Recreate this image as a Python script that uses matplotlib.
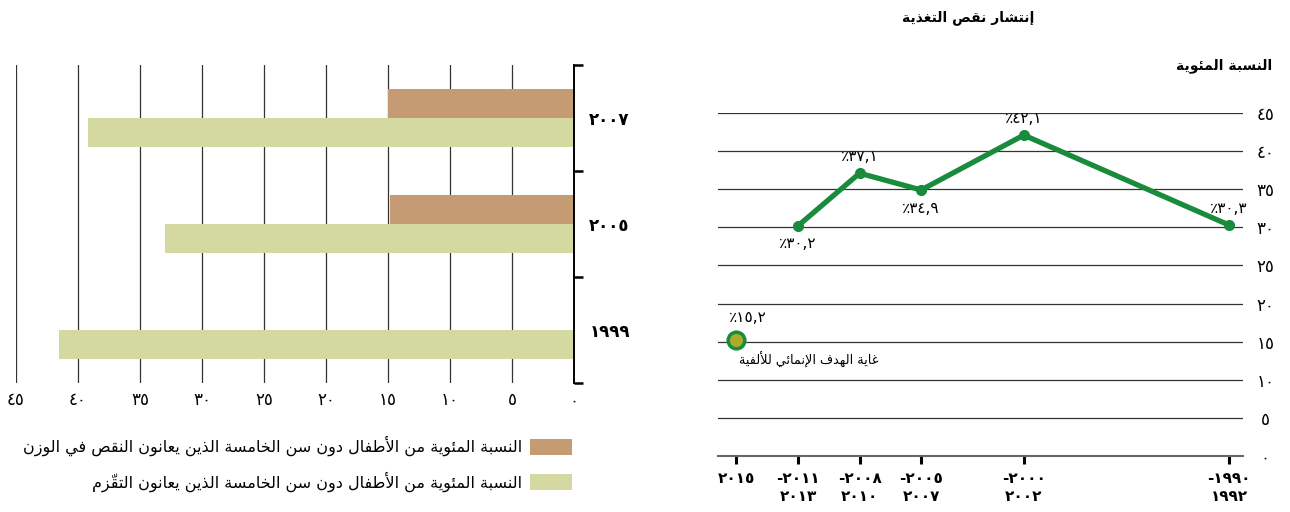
import numpy as np
import matplotlib
matplotlib.use("Agg")
import matplotlib.pyplot as plt

# ---- data: left chart (children under five) ----
bar_years = ["١٩٩٩", "٢٠٠٥", "٢٠٠٧"]
underweight = [np.nan, 14.8, 15.0]
stunting = [41.5, 33.0, 39.2]

# ---- data: right chart (undernourishment prevalence) ----
period_mid = [1991, 2001, 2006, 2009, 2012]
period_labels = ["-١٩٩٠\n١٩٩٢", "-٢٠٠٠\n٢٠٠٢", "-٢٠٠٥\n٢٠٠٧", "-٢٠٠٨\n٢٠١٠", "-٢٠١١\n٢٠١٣"]
prevalence = [30.3, 42.1, 34.9, 37.1, 30.2]
value_labels = ["٪٣٠,٣", "٪٤٢,١", "٪٣٤,٩", "٪٣٧,١", "٪٣٠,٢"]
target_year = 2015
target_label = "٢٠١٥"
target_value = 15.2
target_text = "٪١٥,٢"

title = "إنتشار نقص التغذية"
ylab = "النسبة المئوية"
target_caption = "غاية الهدف الإنمائي للألفية"
legend_labels = ["النسبة المئوية من الأطفال دون سن الخامسة الذين يعانون النقص في الوزن",
                 "النسبة المئوية من الأطفال دون سن الخامسة الذين يعانون التقزّم"]

BROWN = "#c49b72"
PALE = "#d3d9a1"
GREEN = "#188b3c"
OLIVE = "#a9ac2c"

# arabic presentation forms: letter -> (isolated form, number of forms)
AR_FORMS = {
    "ء": (0xFE80, 1), "آ": (0xFE81, 2), "أ": (0xFE83, 2), "ؤ": (0xFE85, 2),
    "إ": (0xFE87, 2), "ئ": (0xFE89, 4), "ا": (0xFE8D, 2), "ب": (0xFE8F, 4),
    "ة": (0xFE93, 2), "ت": (0xFE95, 4), "ث": (0xFE99, 4), "ج": (0xFE9D, 4),
    "ح": (0xFEA1, 4), "خ": (0xFEA5, 4), "د": (0xFEA9, 2), "ذ": (0xFEAB, 2),
    "ر": (0xFEAD, 2), "ز": (0xFEAF, 2), "س": (0xFEB1, 4), "ش": (0xFEB5, 4),
    "ص": (0xFEB9, 4), "ض": (0xFEBD, 4), "ط": (0xFEC1, 4), "ظ": (0xFEC5, 4),
    "ع": (0xFEC9, 4), "غ": (0xFECD, 4), "ف": (0xFED1, 4), "ق": (0xFED5, 4),
    "ك": (0xFED9, 4), "ل": (0xFEDD, 4), "م": (0xFEE1, 4), "ن": (0xFEE5, 4),
    "ه": (0xFEE9, 4), "و": (0xFEED, 2), "ى": (0xFEEF, 2), "ي": (0xFEF1, 4),
}
LAM_ALEF = {"آ": 0xFEF5, "أ": 0xFEF7, "إ": 0xFEF9, "ا": 0xFEFB}
MARKS = set(chr(c) for c in range(0x064B, 0x0653))


def ar(text):
    # crude shaping + reversal so matplotlib draws arabic right to left
    clusters = []
    for ch in text:
        if ch in MARKS and clusters:
            clusters[-1][1] += ch
        else:
            clusters.append([ch, ""])
    n = len(clusters)

    def joins_next(k):
        return 0 <= k < n and AR_FORMS.get(clusters[k][0], (0, 0))[1] == 4

    out = []
    i = 0
    while i < n:
        ch, marks = clusters[i]
        if ch not in AR_FORMS:
            out.append(ch + marks)
            i += 1
            continue
        prev = joins_next(i - 1)
        if ch == "ل" and i + 1 < n and clusters[i + 1][0] in LAM_ALEF:
            code = LAM_ALEF[clusters[i + 1][0]] + (1 if prev else 0)
            out.append(chr(code) + marks + clusters[i + 1][1])
            i += 2
            continue
        start, nforms = AR_FORMS[ch]
        nxt = nforms == 4 and i + 1 < n and clusters[i + 1][0] in AR_FORMS
        if nforms == 1:
            form = 0
        elif nxt:
            form = 3 if prev else 2
        else:
            form = 1 if prev else 0
        out.append(chr(start + form) + marks)
        i += 1
    return "".join(reversed(out))


def ind(v):
    return str(v).translate(str.maketrans("0123456789", "٠١٢٣٤٥٦٧٨٩"))


plt.rcParams["font.family"] = ["DejaVu Sans"]

W, H = 1290, 512
fig = plt.figure(figsize=(W / 100, H / 100), dpi=100)

# ---------------- left: horizontal bars ----------------
axL = fig.add_axes([16 / W, 1 - 383 / H, (574 - 16) / W, (383 - 65) / H])
pos = np.arange(len(bar_years))
bh = 0.275
uw = np.array(underweight)
ok = ~np.isnan(uw)
b1 = axL.barh(pos[ok], uw[ok], height=bh, align="edge", color=BROWN, zorder=2)
b2 = axL.barh(pos, stunting, height=-bh, align="edge", color=PALE, zorder=2)
axL.set_xlim(45, 0)
axL.set_ylim(-0.5, len(bar_years) - 0.5)
xt = np.arange(0, 50, 5)
axL.set_xticks(xt)
axL.set_xticklabels([ind(v) for v in xt], fontsize=12)
axL.tick_params(axis="x", length=0, pad=6)
axL.grid(axis="x", color="#333333", linewidth=0.9, zorder=1)
axL.set_axisbelow(True)
for s in ["left", "top", "bottom"]:
    axL.spines[s].set_visible(False)
axL.spines["right"].set_linewidth(1.4)
axL.yaxis.tick_right()
axL.set_yticks(np.arange(len(bar_years) + 1) - 0.5)
axL.set_yticklabels([])
axL.set_yticks(pos, minor=True)
axL.set_yticklabels(bar_years, minor=True, fontsize=12, fontweight="bold")
axL.tick_params(axis="y", which="major", length=6.5, width=1.8, direction="out")
axL.tick_params(axis="y", which="minor", length=0, pad=11)

fig.legend([b1, b2], [ar(t) for t in legend_labels], loc="upper right",
           bbox_to_anchor=(572 / W, 1 - 436 / H), frameon=False, markerfirst=False,
           fontsize=11.5, handlelength=2.65, handleheight=1.2, handletextpad=0.5,
           labelspacing=0.95, borderpad=0, borderaxespad=0)

# ---------------- right: line chart ----------------
axR = fig.add_axes([718 / W, 1 - 456 / H, (1243 - 718) / W, (456 - 113) / H])
axR.plot(period_mid, prevalence, color=GREEN, linewidth=3.8, marker="o",
         markersize=7, zorder=3, solid_capstyle="round")
axR.plot([target_year], [target_value], linestyle="none", marker="o", markersize=12,
         markerfacecolor=OLIVE, markeredgecolor=GREEN, markeredgewidth=2.5, zorder=4)
axR.set_xlim(2015.9, 1990.32)
axR.set_ylim(0, 45)
yt = np.arange(0, 50, 5)
axR.set_yticks(yt)
axR.set_yticklabels([ind(v) for v in yt], fontsize=12, ha="center")
axR.yaxis.tick_right()
axR.tick_params(axis="y", length=0, pad=16)
axR.grid(axis="y", color="#333333", linewidth=0.9, zorder=1)
axR.set_xticks(period_mid + [target_year])
axR.set_xticklabels(period_labels + [target_label], fontsize=11, fontweight="bold")
axR.tick_params(axis="x", length=6, width=2.2, color="black", pad=5)
for s in ["left", "top", "right"]:
    axR.spines[s].set_visible(False)
axR.spines["bottom"].set_color("#666666")
axR.spines["bottom"].set_linewidth(1.5)

label_above = [True, True, False, True, False]
for x, y, t, up in zip(period_mid, prevalence, value_labels, label_above):
    axR.annotate(t, (x, y), xytext=(0, 12 if up else -13), textcoords="offset points",
                 ha="center", va="center", fontsize=11)
axR.annotate(target_text, (target_year, target_value), xytext=(8, 16),
             textcoords="offset points", ha="center", va="center", fontsize=11)
axR.annotate(ar(target_caption), (target_year, target_value), xytext=(2, -14),
             textcoords="offset points", ha="left", va="center", fontsize=9.2)

fig.text(1272 / W, 1 - 66 / H, ar(ylab), ha="right", va="center", fontsize=10,
         fontweight="bold")
fig.text(968 / W, 1 - 18 / H, ar(title), ha="center", va="center", fontsize=10,
         fontweight="bold")

fig.savefig("out.png", dpi=100)
